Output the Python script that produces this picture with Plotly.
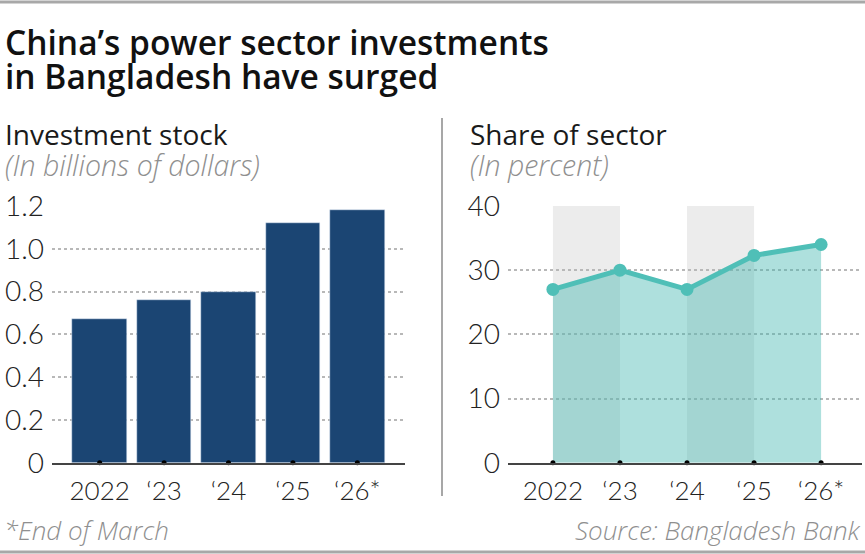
import plotly.graph_objects as go

# ---- data ----
years = ["2022", "\u201823", "\u201824", "\u201825", "\u201826*"]
stock = [0.67, 0.76, 0.80, 1.12, 1.18]      # billions of dollars
share = [27.0, 30.0, 27.0, 32.3, 34.0]      # percent
stock_ticks = [0, 0.2, 0.4, 0.6, 0.8, 1.0, 1.2]
share_ticks = [0, 10, 20, 30, 40]

W, H = 865, 554
FONT = "Open Sans"
TICKFONT = "Lato"
BAR = "#1b4573"
TEAL = "#4fbfb7"
idx = list(range(len(years)))


def py(y):
    # pixel row -> paper y
    return 1 - y / H


def px(x):
    return x / W


fig = go.Figure()

# left: bars
fig.add_trace(go.Bar(x=idx, y=stock, marker_color=BAR, width=0.85,
                     xaxis="x", yaxis="y", showlegend=False, hoverinfo="skip"))
fig.add_trace(go.Scatter(x=idx, y=[0] * len(idx), mode="markers",
                         marker=dict(color="black", size=5), cliponaxis=False,
                         xaxis="x", yaxis="y", showlegend=False, hoverinfo="skip"))

# right: area + line
fig.add_trace(go.Scatter(x=idx, y=share, mode="lines+markers", fill="tozeroy",
                         fillcolor="rgba(62,181,174,0.42)",
                         line=dict(color=TEAL, width=5),
                         marker=dict(color=TEAL, size=13),
                         xaxis="x2", yaxis="y2", showlegend=False, hoverinfo="skip"))
fig.add_trace(go.Scatter(x=idx, y=[0] * len(idx), mode="markers",
                         marker=dict(color="black", size=5), cliponaxis=False,
                         xaxis="x2", yaxis="y2", showlegend=False, hoverinfo="skip"))

# alternating grey bands behind the area
shapes = []
for i in idx[:-1:2]:
    shapes.append(dict(type="rect", xref="x2", yref="y2", x0=idx[i], x1=idx[i + 1],
                       y0=0, y1=share_ticks[-1], fillcolor="#ececec",
                       line_width=0, layer="below"))
# frame lines
shapes += [
    dict(type="line", xref="paper", yref="paper", x0=0, x1=1, y0=py(2), y1=py(2),
         line=dict(color="#a8a8a8", width=3)),
    dict(type="line", xref="paper", yref="paper", x0=0, x1=1, y0=py(552), y1=py(552),
         line=dict(color="#a8a8a8", width=3)),
    dict(type="line", xref="paper", yref="paper", x0=px(442), x1=px(442),
         y0=py(118), y1=py(496), line=dict(color="#8a8a8a", width=1.5)),
]

xtickfont = dict(family=TICKFONT, size=26, color="#222222", weight=300)
ytickfont = dict(family=TICKFONT, size=28, color="#222222", weight=300)
ydom = [py(462.7), py(206)]

common_y = dict(showgrid=True, gridcolor="#b8b8b8", griddash="dot", gridwidth=1.5,
                zeroline=False, showline=False, ticks="", tickfont=ytickfont,
                ticklabelstandoff=7, automargin=False)
common_x = dict(tickmode="array", tickvals=idx, ticktext=years, showgrid=False,
                zeroline=False, showline=True, linecolor="#444444", linewidth=1.5,
                ticks="", tickfont=xtickfont, ticklabelstandoff=4, automargin=False)

fig.update_layout(
    width=W, height=H,
    margin=dict(l=0, r=0, t=0, b=0, autoexpand=False),
    paper_bgcolor="white", plot_bgcolor="rgba(0,0,0,0)",
    bargap=0,
    xaxis=dict(domain=[px(52), px(405)], range=[-0.74, 4.74], **common_x),
    yaxis=dict(domain=ydom, range=[0, 1.2], tickvals=stock_ticks,
               ticktext=[f"{v:.1f}" if v else "0" for v in stock_ticks], **common_y),
    xaxis2=dict(domain=[px(508), px(862)], range=[-0.67, 4.61], anchor="y2", **common_x),
    yaxis2=dict(domain=ydom, range=[0, 40], tickvals=share_ticks, anchor="x2", **common_y),
    shapes=shapes,
)

anns = [
    ("China\u2019s power sector investments", 3, 42, 33.5, "#111111", 600, "normal", "left"),
    ("in Bangladesh have surged", 3, 76, 33.5, "#111111", 600, "normal", "left"),
    ("Investment stock", 3, 134, 28, "#1a1a1a", 400, "normal", "left"),
    ("(In billions of dollars)", 3, 165, 28.5, "#8f8f8f", 300, "italic", "left"),
    ("Share of sector", 468, 134, 28, "#1a1a1a", 400, "normal", "left"),
    ("(In percent)", 468, 165, 28.5, "#8f8f8f", 300, "italic", "left"),
    ("*End of March", 2, 530, 26, "#8f8f8f", 300, "italic", "left"),
    ("Source: Bangladesh Bank", 863, 530, 26, "#8f8f8f", 300, "italic", "right"),
]
for text, x, y, size, color, weight, style, anchor in anns:
    fig.add_annotation(text=text, xref="paper", yref="paper", x=px(x), y=py(y),
                       xanchor=anchor, yanchor="middle", showarrow=False,
                       font=dict(family=FONT, size=size, color=color,
                                 weight=weight, style=style))

# drop the default page margin so the figure sits at the window's corner
fig.write_html("out.html", config={"displayModeBar": False},
               post_script="document.body.style.margin='0';")
